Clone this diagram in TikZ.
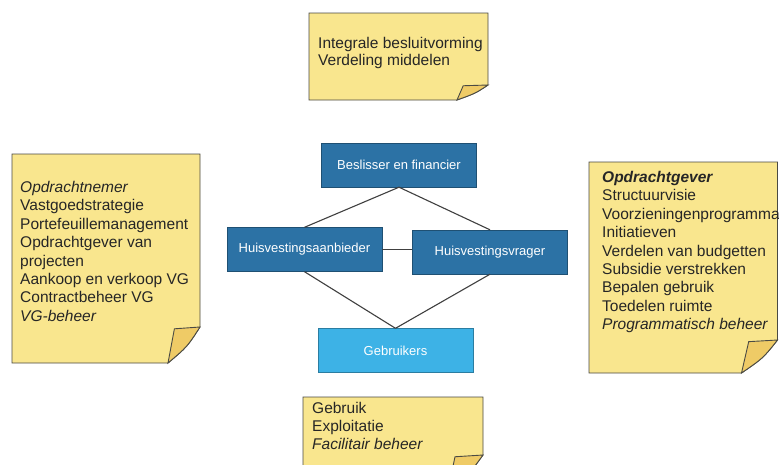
\documentclass[tikz,border=0pt]{standalone}
\usepackage{fontspec}
\setmainfont{Liberation Sans}
\definecolor{notefill}{HTML}{F9E68E}
\definecolor{flapfill}{HTML}{EFCB66}
\definecolor{noteline}{HTML}{4A4A44}
\definecolor{roledark}{HTML}{2C72A5}
\definecolor{rolelight}{HTML}{3DB2E6}
\tikzset{
  rolebox/.style={draw=roledark!70!black, fill=roledark, text=white, minimum width=155pt, minimum height=44pt, inner sep=0pt, font=\fontsize{13}{15}\selectfont},
  notetext/.style={anchor=north west, align=left, inner sep=0pt, text=black!85, font=\fontsize{15.5}{18.4}\selectfont},
  link/.style={draw=black!75, line width=1.1pt}
}
% sticky note: x1, y1, x2, y2, fold in x, fold in y
\newcommand{\stickynote}[6]{%
  \filldraw[fill=notefill, draw=noteline, line width=0.9pt]
    (#1,#2) -- (#3,#2) -- (#3,{#4-#6}) .. controls ({#3-0.4*#5},{#4-0.45*#6}) .. ({#3-#5},#4) -- (#1,#4) -- cycle;
  \filldraw[fill=flapfill, draw=noteline, line width=0.9pt]
    ({#3-#5},#4) -- ({#3-0.8*#5},{#4-0.95*#6}) -- (#3,{#4-#6}) .. controls ({#3-0.4*#5},{#4-0.45*#6}) .. ({#3-#5},#4) -- cycle;
}
\begin{document}
\begin{tikzpicture}[x=1pt,y=-1pt]
\useasboundingbox (0,0) rectangle (779,464);
\fill[white] (0,0) rectangle (779,464);
\clip (0,0) rectangle (779,464);

% notes
\stickynote{309}{13}{488}{100}{31}{15}
\stickynote{12}{154}{200}{363}{32}{36}
\stickynote{589}{162}{777.5}{373}{36}{33}
\stickynote{303}{397}{483}{490}{35}{35}

\node[notetext, font=\fontsize{15.5}{17}\selectfont] (toptext) at (318,37) {Integrale besluitvorming\\Verdeling middelen};
\node[notetext] (lefttext) at (20,181) {\textit{Opdrachtnemer}\\Vastgoedstrategie\\Portefeuillemanagement\\Opdrachtgever van\\projecten\\Aankoop en verkoop VG\\Contractbeheer VG\\\textit{VG-beheer}};
\node[notetext] (righttext) at (602,171) {\textbf{\textit{Opdrachtgever}}\\Structuurvisie\\Voorzieningenprogramma\\Initiatieven\\Verdelen van budgetten\\Subsidie verstrekken\\Bepalen gebruik\\Toedelen ruimte\\\textit{Programmatisch beheer}};
\node[notetext, font=\fontsize{15.5}{18}\selectfont] (bottomtext) at (312,402) {Gebruik\\Exploitatie\\\textit{Facilitair beheer}};

% roles
\node[rolebox] (besl) at (399,165) {Beslisser en financier};
\node[rolebox] (aanb) at (304.5,249.5) {Huisvestingsaanbieder};
\node[rolebox] (vrag) at (490,252) {Huisvestingsvrager};
\node[rolebox, fill=rolelight, draw=rolelight!70!black] (gebr) at (395.5,350.5) {Gebruikers};

\draw[link] (besl.south) -- (aanb.north);
\draw[link] (besl.south) -- (vrag.north);
\draw[link] (aanb.east) -- (aanb.east -| vrag.west);
\draw[link] (aanb.south) -- (gebr.north);
\draw[link] (vrag.south) -- (gebr.north);
\end{tikzpicture}
\end{document}
